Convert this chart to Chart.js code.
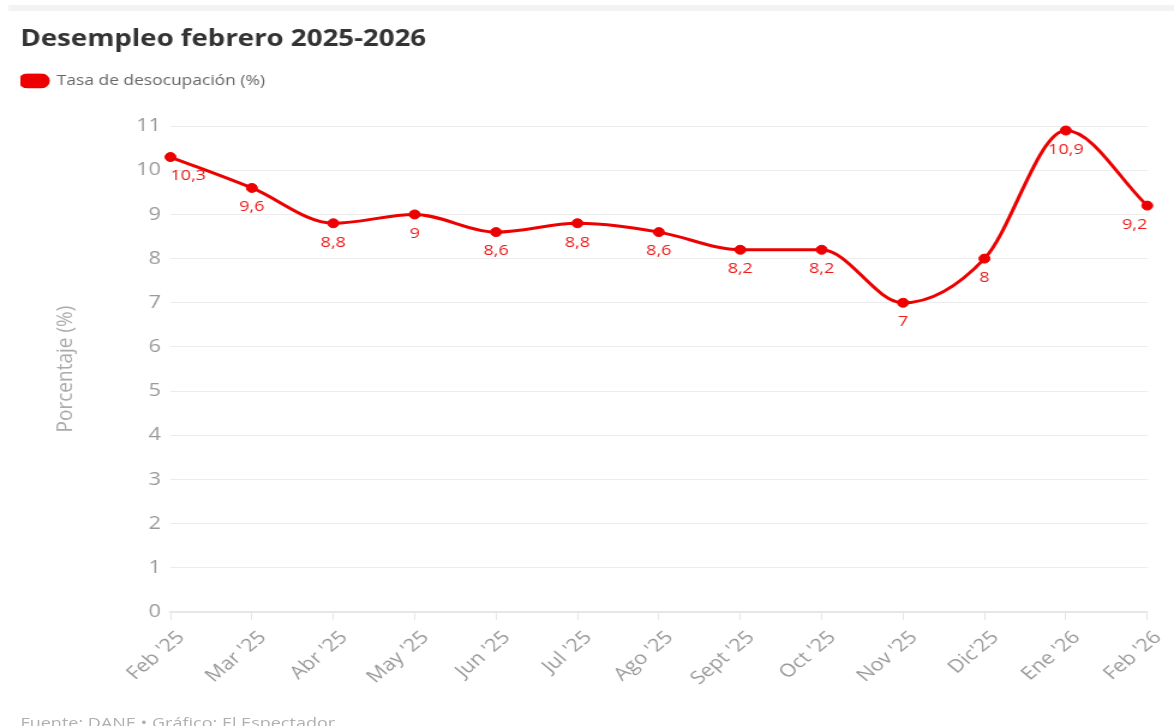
<!DOCTYPE html>
<html lang="es">
<head>
  <meta charset="UTF-8">
  <title>Desempleo febrero 2025-2026</title>
  <script src="https://cdn.jsdelivr.net/npm/chart.js"></script>
  <style>
    body { margin: 0; background: #fff; overflow: hidden; }
    /* el original viene estirado en horizontal, se imita con scaleX */
    .lienzo { position: relative; width: 978px; height: 726px; transform: scaleX(1.2004); transform-origin: 0 0; }
    .barra { position: absolute; left: 7px; right: 0; top: 5px; height: 6px; background: #f3f3f3; }
    .fuente { position: absolute; left: 17px; top: 715px; font: 15px "Open Sans", sans-serif; line-height: 15px; color: #b0b0b0; white-space: nowrap; }
  </style>
</head>
<body>
  <div class="lienzo">
    <div class="barra"></div>
    <canvas id="grafica" width="978" height="726"></canvas>
    <div class="fuente">Fuente: DANE • Gráfico: El Espectador</div>
  </div>
  <script>
    const meses = ["Feb '25", "Mar '25", "Abr '25", "May '25", "Jun '25", "Jul '25", "Ago '25",
                   "Sept '25", "Oct '25", "Nov '25", "Dic'25", "Ene '26", "Feb '26"];
    const tasa = [10.3, 9.6, 8.8, 9, 8.6, 8.8, 8.6, 8.2, 8.2, 7, 8, 10.9, 9.2];
    const ticksY = [0, 1, 2, 3, 4, 5, 6, 7, 8, 9, 10, 11];

    const rojo = '#ec0000';
    const fuente = '"Open Sans", sans-serif';

    // etiquetas de valor debajo de cada punto
    const etiquetas = {
      id: 'etiquetas',
      afterDatasetsDraw(chart) {
        const { ctx, chartArea } = chart;
        const meta = chart.getDatasetMeta(0);
        ctx.save();
        ctx.font = '15px ' + fuente;
        ctx.fillStyle = '#ee1a1a';
        ctx.textAlign = 'center';
        ctx.textBaseline = 'middle';
        meta.data.forEach(function (pt, i) {
          const txt = String(tasa[i]).replace('.', ',');
          const w = ctx.measureText(txt).width;
          const x = Math.max(chartArea.left + w / 2, Math.min(chartArea.right - w / 2, pt.x));
          ctx.fillText(txt, x, pt.y + 19);
        });
        ctx.restore();
      }
    };

    const ctx = document.getElementById('grafica').getContext('2d');
    const grafica = new Chart(ctx, {
      type: 'line',
      data: {
        labels: meses,
        datasets: [{
          label: 'Tasa de desocupación (%)',
          data: tasa,
          borderColor: rojo,
          backgroundColor: rojo,
          borderWidth: 3,
          pointRadius: 4.5,
          pointBorderWidth: 1,
          pointBackgroundColor: rojo,
          pointBorderColor: rojo,
          cubicInterpolationMode: 'monotone',
          clip: false
        }]
      },
      options: {
        responsive: false,
        animation: false,
        devicePixelRatio: 1,
        layout: { padding: { left: 17, right: 20, top: 0, bottom: 0 } },
        plugins: {
          title: {
            display: true,
            text: 'Desempleo febrero 2025-2026',
            align: 'start',
            color: '#333',
            font: { family: fuente, size: 23, weight: 'bold' },
            padding: { top: 26, bottom: 20 }
          },
          legend: {
            align: 'start',
            weight: 1800,
            labels: {
              boxWidth: 23,
              boxHeight: 12,
              useBorderRadius: true,
              borderRadius: 6,
              padding: 0,
              color: '#666',
              font: { family: fuente, size: 14.5 }
            }
          },
          // hueco vacío entre la leyenda y el área del gráfico
          subtitle: {
            display: true,
            text: '',
            weight: 1500,
            font: { size: 10 },
            padding: { top: 16, bottom: 0 }
          },
          tooltip: { enabled: false }
        },
        scales: {
          x: {
            offset: false,
            grid: { display: true, drawOnChartArea: false, drawTicks: true, tickLength: 8, color: '#e6e6e6' },
            border: { display: true, color: '#e6e6e6', width: 2 },
            ticks: {
              autoSkip: false,
              maxRotation: 45,
              minRotation: 45,
              padding: 7,
              labelOffset: 9,
              color: '#9a9a9a',
              font: { family: fuente, size: 18 }
            },
            afterFit: function (s) { s.height = 114; }
          },
          y: {
            min: 0,
            max: 11,
            afterBuildTicks: function (s) { s.ticks = ticksY.map(v => ({ value: v })); },
            ticks: {
              padding: 8,
              color: '#9a9a9a',
              font: { family: fuente, size: 18 }
            },
            grid: { color: '#ececec', drawTicks: false },
            border: { display: false },
            title: {
              display: true,
              text: 'Porcentaje (%)',
              color: '#aaa',
              font: { family: fuente, size: 19 },
              padding: { top: 26, bottom: 0 }
            },
            afterFit: function (s) { s.width = 125; }
          }
        }
      },
      plugins: [etiquetas]
    });
  </script>
</body>
</html>
